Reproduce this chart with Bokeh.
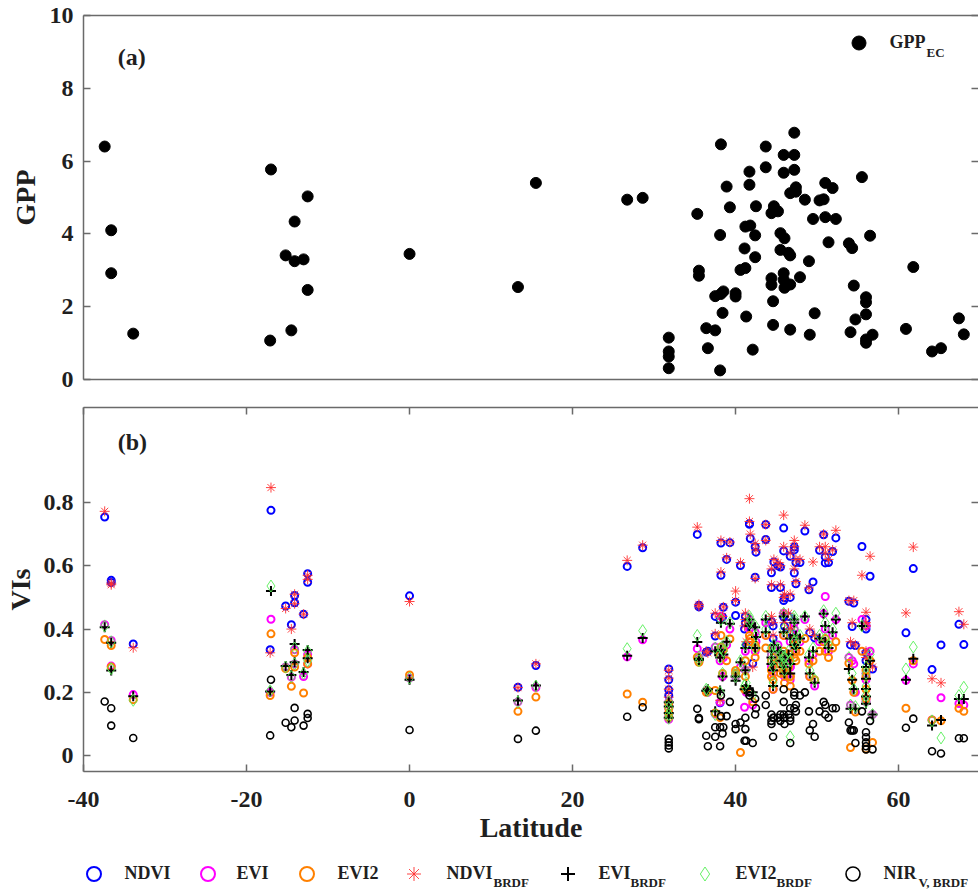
from bokeh.plotting import figure
from bokeh.layouts import column
from bokeh.models import (Range1d, FixedTicker, LinearAxis, Label, Legend,
                          LegendItem, ColumnDataSource)
from bokeh.embed import file_html
from bokeh.resources import INLINE

# ---------------- data ----------------
lat = [-37.4, -36.6, -36.6, -33.9, -17.0, -17.1, -15.2, -14.5, -14.1, -14.1,
       -13.0, -12.5, -12.5, 0.0, 13.3, 15.5, 26.7, 28.6, 31.8, 31.8,
       31.8, 31.8, 35.3, 35.5, 35.5, 36.4, 36.6, 37.5, 37.5, 38.2,
       38.5, 38.4, 38.1, 38.2, 38.1, 38.9, 39.3, 40.0, 40.0, 40.6,
       41.2, 41.1, 41.3, 41.2, 41.8, 41.7, 41.7, 42.1, 42.4, 42.4,
       42.5, 43.7, 43.7, 44.4, 44.7, 45.2, 44.4, 44.4, 44.6, 44.6,
       45.5, 46.0, 45.5, 46.5, 46.7, 45.9, 47.2, 45.9, 47.2, 47.2,
       47.4, 46.7, 47.4, 45.9, 45.9, 46.7, 46.0, 47.9, 46.7, 48.5,
       49.0, 49.5, 49.7, 49.1, 50.3, 50.8, 51.0, 51.9, 51.0, 52.3,
       51.4, 53.9, 54.3, 55.5, 56.5, 54.5, 56.0, 56.0, 56.0, 54.7,
       54.1, 56.0, 56.0, 56.8, 61.8, 60.9, 64.1, 65.2, 67.4, 68.0]

gpp = [6.40, 4.10, 2.92, 1.26, 5.77, 1.07, 3.41, 1.35, 4.34, 3.25,
       3.30, 5.03, 2.46, 3.45, 2.54, 5.40, 4.94, 4.99, 1.15, 0.77,
       0.63, 0.31, 4.55, 2.99, 2.85, 1.41, 0.86, 1.35, 2.29, 2.35,
       2.42, 1.83, 0.25, 6.46, 3.97, 5.30, 4.73, 2.37, 2.28, 3.01,
       3.06, 3.60, 1.73, 4.20, 4.23, 5.71, 5.35, 0.82, 3.96, 3.36,
       4.76, 6.40, 5.83, 4.57, 4.76, 4.62, 2.78, 2.60, 2.15, 1.50,
       4.02, 3.88, 3.56, 3.48, 3.41, 6.17, 6.17, 5.68, 5.76, 6.78,
       5.28, 5.12, 5.16, 2.92, 2.74, 2.61, 2.52, 2.81, 1.37, 4.94,
       3.25, 4.41, 1.82, 1.23, 4.92, 4.95, 5.40, 5.26, 4.46, 4.41,
       3.77, 3.74, 3.61, 5.56, 3.95, 2.58, 2.26, 2.12, 1.79, 1.65,
       1.30, 1.10, 1.01, 1.23, 3.09, 1.39, 0.77, 0.86, 1.68, 1.24]

ndvi = [0.754, 0.554, 0.547, 0.353, 0.775, 0.335, 0.473, 0.414, 0.506, 0.483,
        0.447, 0.575, 0.548, 0.505, 0.216, 0.285, 0.598, 0.657, 0.274, 0.240,
        0.208, 0.190, 0.699, 0.475, 0.470, 0.327, 0.330, 0.378, 0.440, 0.570,
        0.469, 0.438, 0.167, 0.672, 0.430, 0.620, 0.673, 0.485, 0.443, 0.601,
        0.440, 0.400, 0.350, 0.420, 0.686, 0.733, 0.731, 0.292, 0.660, 0.564,
        0.643, 0.730, 0.683, 0.578, 0.612, 0.600, 0.531, 0.424, 0.410, 0.370,
        0.596, 0.499, 0.531, 0.440, 0.390, 0.719, 0.659, 0.647, 0.577, 0.650,
        0.610, 0.630, 0.543, 0.490, 0.438, 0.500, 0.409, 0.610, 0.390, 0.710,
        0.524, 0.549, 0.372, 0.388, 0.649, 0.698, 0.609, 0.645, 0.628, 0.688,
        0.610, 0.488, 0.408, 0.661, 0.567, 0.482, 0.430, 0.410, 0.400, 0.348,
        0.350, 0.325, 0.300, 0.274, 0.591, 0.388, 0.272, 0.350, 0.415, 0.351]

ndvi_brdf = [0.772, 0.540, 0.545, 0.341, 0.847, 0.325, 0.465, 0.400, 0.510, 0.480,
             0.447, 0.570, 0.557, 0.487, 0.215, 0.290, 0.617, 0.665, 0.270, 0.245,
             0.210, 0.185, 0.722, 0.478, 0.472, 0.330, 0.325, 0.385, 0.450, 0.580,
             0.470, 0.440, 0.175, 0.680, 0.440, 0.625, 0.675, 0.490, 0.520, 0.610,
             0.450, 0.410, 0.360, 0.430, 0.700, 0.812, 0.740, 0.280, 0.670, 0.560,
             0.650, 0.730, 0.680, 0.590, 0.620, 0.610, 0.540, 0.440, 0.420, 0.380,
             0.600, 0.510, 0.540, 0.450, 0.400, 0.760, 0.680, 0.660, 0.590, 0.660,
             0.620, 0.640, 0.550, 0.500, 0.450, 0.510, 0.420, 0.620, 0.400, 0.728,
             0.530, 0.612, 0.380, 0.400, 0.660, 0.700, 0.660, 0.650, 0.640, 0.712,
             0.620, 0.490, 0.420, 0.570, 0.630, 0.490, 0.453, 0.420, 0.410, 0.350,
             0.360, 0.330, 0.310, 0.280, 0.659, 0.451, 0.243, 0.230, 0.455, 0.415]

evi = [0.414, 0.364, 0.283, 0.193, 0.431, 0.200, 0.280, 0.248, 0.335, 0.290,
       0.250, 0.320, 0.290, 0.245, 0.170, 0.215, 0.312, 0.366, 0.170, 0.150,
       0.130, 0.115, 0.338, 0.310, 0.300, 0.205, 0.200, 0.343, 0.132, 0.330,
       0.310, 0.250, 0.169, 0.440, 0.300, 0.350, 0.400, 0.260, 0.250, 0.280,
       0.270, 0.153, 0.200, 0.330, 0.420, 0.430, 0.400, 0.160, 0.390, 0.330,
       0.360, 0.420, 0.380, 0.320, 0.340, 0.350, 0.300, 0.280, 0.260, 0.210,
       0.320, 0.300, 0.290, 0.310, 0.280, 0.450, 0.400, 0.380, 0.340, 0.420,
       0.370, 0.360, 0.330, 0.290, 0.270, 0.280, 0.250, 0.360, 0.240, 0.430,
       0.300, 0.320, 0.220, 0.250, 0.360, 0.448, 0.400, 0.380, 0.503, 0.430,
       0.330, 0.310, 0.300, 0.430, 0.330, 0.290, 0.410, 0.260, 0.240, 0.200,
       0.160, 0.180, 0.170, 0.130, 0.290, 0.238, 0.113, 0.183, 0.165, 0.160]

evi_brdf = [0.406, 0.357, 0.269, 0.188, 0.520, 0.203, 0.283, 0.255, 0.353, 0.295,
            0.264, 0.334, 0.308, 0.240, 0.174, 0.222, 0.316, 0.372, 0.169, 0.155,
            0.135, 0.120, 0.359, 0.306, 0.302, 0.205, 0.210, 0.330, 0.140, 0.335,
            0.320, 0.250, 0.206, 0.420, 0.310, 0.360, 0.417, 0.237, 0.250, 0.295,
            0.270, 0.210, 0.220, 0.340, 0.417, 0.430, 0.410, 0.200, 0.406, 0.340,
            0.375, 0.430, 0.390, 0.330, 0.350, 0.330, 0.310, 0.290, 0.270, 0.220,
            0.330, 0.310, 0.300, 0.320, 0.290, 0.440, 0.420, 0.390, 0.350, 0.430,
            0.380, 0.370, 0.340, 0.300, 0.280, 0.290, 0.260, 0.370, 0.260, 0.440,
            0.310, 0.330, 0.230, 0.260, 0.370, 0.448, 0.410, 0.390, 0.360, 0.430,
            0.340, 0.274, 0.240, 0.410, 0.300, 0.211, 0.280, 0.243, 0.211, 0.148,
            0.148, 0.187, 0.164, 0.130, 0.306, 0.240, 0.095, 0.113, 0.179, 0.179]

evi2 = [0.367, 0.348, 0.280, 0.177, 0.385, 0.190, 0.275, 0.219, 0.325, 0.280,
        0.198, 0.310, 0.290, 0.255, 0.140, 0.185, 0.195, 0.169, 0.165, 0.150,
        0.135, 0.120, 0.311, 0.300, 0.295, 0.200, 0.206, 0.206, 0.135, 0.343,
        0.335, 0.260, 0.120, 0.380, 0.320, 0.300, 0.369, 0.269, 0.260, 0.010,
        0.250, 0.210, 0.210, 0.300, 0.370, 0.380, 0.360, 0.170, 0.350, 0.310,
        0.340, 0.380, 0.340, 0.300, 0.310, 0.290, 0.270, 0.250, 0.240, 0.210,
        0.290, 0.270, 0.260, 0.280, 0.250, 0.380, 0.350, 0.330, 0.310, 0.370,
        0.330, 0.320, 0.300, 0.270, 0.260, 0.250, 0.230, 0.330, 0.220, 0.370,
        0.290, 0.300, 0.240, 0.250, 0.330, 0.360, 0.370, 0.340, 0.330, 0.360,
        0.310, 0.292, 0.238, 0.330, 0.300, 0.200, 0.270, 0.250, 0.210, 0.138,
        0.026, 0.021, 0.180, 0.042, 0.300, 0.150, 0.113, 0.110, 0.150, 0.140]

evi2_brdf = [0.410, 0.360, 0.275, 0.175, 0.536, 0.205, 0.280, 0.250, 0.340, 0.290,
             0.260, 0.330, 0.300, 0.245, 0.170, 0.220, 0.338, 0.395, 0.170, 0.152,
             0.130, 0.118, 0.380, 0.312, 0.300, 0.210, 0.205, 0.340, 0.130, 0.340,
             0.330, 0.260, 0.200, 0.430, 0.310, 0.360, 0.420, 0.250, 0.260, 0.300,
             0.270, 0.220, 0.230, 0.350, 0.430, 0.440, 0.420, 0.190, 0.410, 0.340,
             0.380, 0.440, 0.400, 0.340, 0.350, 0.340, 0.320, 0.300, 0.280, 0.230,
             0.320, 0.310, 0.300, 0.330, 0.300, 0.450, 0.430, 0.400, 0.360, 0.440,
             0.390, 0.380, 0.350, 0.310, 0.290, 0.300, 0.270, 0.380, 0.060, 0.440,
             0.320, 0.340, 0.240, 0.270, 0.380, 0.458, 0.420, 0.400, 0.370, 0.450,
             0.350, 0.310, 0.260, 0.410, 0.320, 0.210, 0.280, 0.260, 0.220, 0.155,
             0.160, 0.190, 0.170, 0.130, 0.343, 0.274, 0.110, 0.056, 0.190, 0.216]

nirv_brdf = [0.171, 0.150, 0.095, 0.056, 0.240, 0.064, 0.104, 0.090, 0.151, 0.111,
             0.095, 0.132, 0.119, 0.081, 0.053, 0.079, 0.123, 0.153, 0.053, 0.042,
             0.032, 0.023, 0.148, 0.119, 0.115, 0.063, 0.030, 0.090, 0.060, 0.125,
             0.090, 0.070, 0.030, 0.190, 0.090, 0.125, 0.170, 0.084, 0.100, 0.105,
             0.084, 0.047, 0.047, 0.120, 0.203, 0.200, 0.190, 0.040, 0.180, 0.130,
             0.150, 0.190, 0.160, 0.130, 0.120, 0.120, 0.110, 0.100, 0.120, 0.060,
             0.130, 0.120, 0.110, 0.130, 0.120, 0.210, 0.190, 0.170, 0.150, 0.200,
             0.160, 0.150, 0.140, 0.130, 0.120, 0.110, 0.100, 0.190, 0.040, 0.200,
             0.140, 0.100, 0.060, 0.080, 0.140, 0.170, 0.160, 0.150, 0.130, 0.150,
             0.120, 0.105, 0.080, 0.140, 0.110, 0.080, 0.074, 0.058, 0.020, 0.040,
             0.080, 0.042, 0.030, 0.020, 0.117, 0.088, 0.014, 0.007, 0.055, 0.055]

gpp_ticks = [0, 2, 4, 6, 8, 10]
vi_ticks = [0, 0.2, 0.4, 0.6, 0.8]
lat_ticks = [-40, -20, 0, 20, 40, 60]

# ---------------- styling ----------------
FONT = "Liberation Serif"
TXT = "#1f1f1f"
AXC = "#6a6a6a"
W = 978
FRAME_LEFT = 83          # px from the page's left edge to each frame
X_RANGE = (-40, 69.8)


def style_axis(ax, labels=True, line=True, tick_in=7):
    ax.axis_line_color = AXC if line else None
    ax.axis_line_width = 1.5
    ax.major_tick_line_color = AXC
    ax.major_tick_line_width = 1.5
    ax.major_tick_in = tick_in
    ax.major_tick_out = 0
    ax.minor_tick_line_color = None
    if labels:
        ax.major_label_text_font = FONT
        ax.major_label_text_font_style = "bold"
        ax.major_label_text_font_size = "24px"
        ax.major_label_text_color = TXT
        ax.major_label_standoff = 10
    else:
        ax.major_label_text_color = None
        ax.major_label_text_alpha = 0
        ax.major_label_text_font_size = "1px"
        ax.major_label_standoff = 0
    ax.axis_label_text_font = FONT
    ax.axis_label_text_font_style = "bold"
    ax.axis_label_text_font_size = "28px"
    ax.axis_label_text_color = TXT
    return ax


def base_fig(height, y_range, top, bottom):
    p = figure(width=W, height=height, x_range=Range1d(*X_RANGE),
               y_range=Range1d(*y_range), output_backend="svg",
               toolbar_location=None, x_axis_location=None,
               y_axis_location=None, min_border_left=FRAME_LEFT,
               min_border_right=0, min_border_top=top,
               min_border_bottom=bottom)
    p.grid.visible = False
    p.outline_line_color = None
    p.background_fill_color = "white"
    p.border_fill_color = "white"
    return p


def make_legend(renderer, label, cx, tx, cy, frame_left, frame_bottom):
    """One-entry legend; cx/tx/cy in page pixels (marker centre, text start)."""
    g = 35
    sx = cx - g / 2 - frame_left
    sy = (frame_bottom - cy) - g / 2
    return Legend(items=[LegendItem(label=label, renderers=[renderer])],
                  location=(sx, sy), glyph_width=g, glyph_height=g,
                  label_standoff=int(round(tx - cx - g / 2)), padding=0,
                  margin=0, spacing=0, border_line_color=None,
                  background_fill_alpha=0, label_text_font=FONT,
                  label_text_font_style="bold", label_text_font_size="18px",
                  label_text_color=TXT, inactive_fill_alpha=0)


def sub_label(text, page_x, page_y, frame_left, frame_bottom):
    return Label(x=page_x - frame_left, y=frame_bottom - page_y,
                 x_units="screen", y_units="screen", text=text,
                 text_font=FONT, text_font_style="bold",
                 text_font_size="13px", text_color=TXT,
                 text_baseline="middle")


# ---------------- (a) GPP panel ----------------
P1_TOP, P1_BOTTOM_BORDER = 15, 14
p1 = base_fig(P1_TOP + 364 + P1_BOTTOM_BORDER, (0, 10), P1_TOP, P1_BOTTOM_BORDER)
P1_FRAME_BOTTOM = P1_TOP + 364

ax = style_axis(LinearAxis(ticker=FixedTicker(ticks=gpp_ticks)))
ax.axis_label = "GPP"
ax.axis_label_standoff = 6
p1.add_layout(ax, "left")
p1.add_layout(style_axis(LinearAxis(ticker=FixedTicker(ticks=gpp_ticks)),
                         labels=False, line=False), "right")
p1.add_layout(style_axis(LinearAxis(ticker=FixedTicker(ticks=[])),
                         labels=False), "below")
p1.add_layout(style_axis(LinearAxis(ticker=FixedTicker(ticks=[])),
                         labels=False), "above")

src1 = ColumnDataSource(dict(lat=lat, gpp=gpp))
gpp_r = p1.scatter("lat", "gpp", source=src1, marker="circle", size=11,
                   fill_color="black", line_color="black")

p1.add_layout(Label(x=-35.8, y=8.87, text="(a)", text_font=FONT,
                    text_font_style="bold", text_font_size="24px",
                    text_color=TXT, text_baseline="middle"))

p1.add_layout(make_legend(gpp_r, "GPP", 858, 890, 42, FRAME_LEFT, P1_FRAME_BOTTOM))
p1.add_layout(sub_label("EC", 926, 52, FRAME_LEFT, P1_FRAME_BOTTOM))

# ---------------- (b) VI panel ----------------
P2_TOP, P2_BOTTOM_BORDER = 14, 85
p2_page_top = P1_FRAME_BOTTOM + P1_BOTTOM_BORDER
p2 = base_fig(P2_TOP + 364 + P2_BOTTOM_BORDER, (-0.05, 1.1), P2_TOP, P2_BOTTOM_BORDER)

ax = style_axis(LinearAxis(ticker=FixedTicker(ticks=vi_ticks)))
ax.major_label_overrides = {0: "0"}
ax.axis_label = "VIs"
ax.axis_label_standoff = 5
p2.add_layout(ax, "left")
p2.add_layout(style_axis(LinearAxis(ticker=FixedTicker(ticks=vi_ticks)),
                         labels=False, line=False), "right")
ax = style_axis(LinearAxis(ticker=FixedTicker(ticks=lat_ticks)))
ax.major_label_overrides = {-40: "-40", -20: "-20"}
ax.axis_label = "Latitude"
ax.major_label_standoff = 20
ax.axis_label_standoff = 2
p2.add_layout(ax, "below")
p2.add_layout(style_axis(LinearAxis(ticker=FixedTicker(ticks=lat_ticks)),
                         labels=False), "above")

series_style = {
    "ndvi": dict(marker="circle", size=7, fill_color=None,
                 line_color="#0000ff", line_width=2),
    "evi": dict(marker="circle", size=7, fill_color=None,
                line_color="#ff00ff", line_width=2),
    "evi2": dict(marker="circle", size=7, fill_color=None,
                 line_color="#ff8000", line_width=2),
    "ndvi_brdf": dict(marker="asterisk", size=10, line_color="#ff3030",
                      line_width=0.9),
    "evi_brdf": dict(marker="cross", size=10, line_color="black",
                     line_width=2),
    "evi2_brdf": dict(marker="diamond", size=12, fill_color=None,
                      line_color="#55ee55", line_width=0.9),
    "nirv_brdf": dict(marker="circle", size=7, fill_color=None,
                      line_color="black", line_width=1.6),
}

src2 = ColumnDataSource(dict(lat=lat, ndvi=ndvi, evi=evi, evi2=evi2,
                             ndvi_brdf=ndvi_brdf, evi_brdf=evi_brdf,
                             evi2_brdf=evi2_brdf, nirv_brdf=nirv_brdf))
for name, st in series_style.items():
    p2.scatter("lat", name, source=src2, **st)

p2.add_layout(Label(x=-35.8, y=0.99, text="(b)", text_font=FONT,
                    text_font_style="bold", text_font_size="24px",
                    text_color=TXT, text_baseline="middle"))

# ---------------- legend strip under panel (b) ----------------
LEG_H = 37
leg_page_top = p2_page_top + P2_TOP + 364 + P2_BOTTOM_BORDER
leg_page_bottom = leg_page_top + LEG_H
pl = figure(width=W, height=LEG_H, x_range=Range1d(0, 1), y_range=Range1d(0, 1),
            output_backend="svg", toolbar_location=None, x_axis_location=None,
            y_axis_location=None, min_border=0, min_border_left=0,
            min_border_right=0, min_border_top=0, min_border_bottom=0)
pl.grid.visible = False
pl.outline_line_color = None
LEG_FRAME_LEFT = FRAME_LEFT   # the column aligns this frame with the panels

legend_rows = [
    ("ndvi", "NDVI", None, 93, 125, None),
    ("evi", "EVI", None, 207, 237, None),
    ("evi2", "EVI2", None, 306, 337, None),
    ("ndvi_brdf", "NDVI", "BRDF", 413, 447, 493),
    ("evi_brdf", "EVI", "BRDF", 567, 598, 630),
    ("evi2_brdf", "EVI2", "BRDF", 704, 735, 776),
    ("nirv_brdf", "NIR", "V, BRDF", 852, 883, 918),
]
for name, main, sub, cx, tx, subx in legend_rows:
    # same series, hidden here: only used as the legend's key glyph
    r = pl.scatter("lat", name, source=src2, visible=False, **series_style[name])
    pl.add_layout(make_legend(r, main, cx, tx, 873, LEG_FRAME_LEFT, leg_page_bottom))
    if sub:
        pl.add_layout(sub_label(sub, subx, 882, LEG_FRAME_LEFT, leg_page_bottom))

layout = column(p1, p2, pl, spacing=0)
open("out.html", "w").write(file_html(layout, INLINE))
